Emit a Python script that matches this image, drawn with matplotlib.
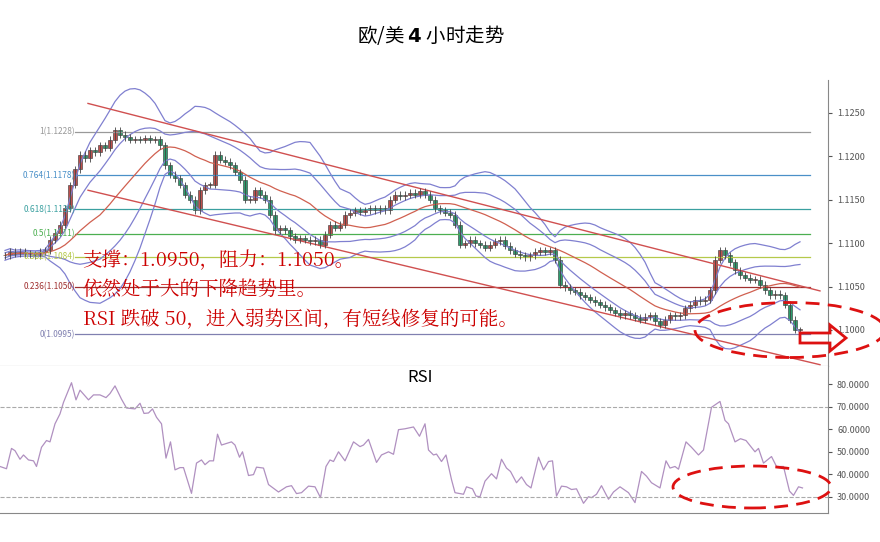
import numpy as np
import pandas as pd
import matplotlib
matplotlib.use('Agg')
import matplotlib.pyplot as plt
from matplotlib.patches import Ellipse, FancyArrow

plt.rcParams['font.family'] = ['Noto Sans CJK SC', 'DejaVu Sans']

# closes, one candle every 4 hours
closes = [1.1086, 1.1090, 1.1088, 1.1090, 1.1088, 1.1087, 1.1086, 1.1090, 1.1092, 1.1104,
          1.1112, 1.1121, 1.1140, 1.1167, 1.1185, 1.1202, 1.1198, 1.1207, 1.1205, 1.1213,
          1.1210, 1.1219, 1.1230, 1.1225, 1.1222, 1.1219, 1.1220, 1.1219, 1.1221, 1.1219,
          1.1220, 1.1213, 1.1190, 1.1179, 1.1175, 1.1167, 1.1156, 1.1150, 1.1138, 1.1161,
          1.1167, 1.1167, 1.1202, 1.1196, 1.1194, 1.1190, 1.1182, 1.1173, 1.1150, 1.1150,
          1.1161, 1.1156, 1.1150, 1.1133, 1.1115, 1.1117, 1.1115, 1.1108, 1.1104, 1.1106,
          1.1104, 1.1102, 1.1104, 1.1098, 1.1110, 1.1121, 1.1118, 1.1121, 1.1133, 1.1135,
          1.1138, 1.1136, 1.1138, 1.1140, 1.1138, 1.1140, 1.1138, 1.1150, 1.1156, 1.1154,
          1.1156, 1.1158, 1.1156, 1.1160, 1.1156, 1.1150, 1.1140, 1.1138, 1.1135, 1.1133,
          1.1121, 1.1098, 1.1100, 1.1104, 1.1100, 1.1098, 1.1095, 1.1098, 1.1102, 1.1104,
          1.1097, 1.1092, 1.1088, 1.1086, 1.1084, 1.1086, 1.1090, 1.1092, 1.1090, 1.1092,
          1.1081, 1.1052, 1.1049, 1.1046, 1.1044, 1.1040, 1.1038, 1.1035, 1.1032, 1.1029,
          1.1026, 1.1023, 1.1020, 1.1017, 1.1019, 1.1017, 1.1014, 1.1012, 1.1015, 1.1017,
          1.1010, 1.1006, 1.1012, 1.1017, 1.1016, 1.1017, 1.1025, 1.1029, 1.1035, 1.1033,
          1.1035, 1.1046, 1.1081, 1.1092, 1.1086, 1.1078, 1.1069, 1.1063, 1.1060, 1.1058,
          1.1058, 1.1052, 1.1046, 1.1040, 1.1042, 1.1040, 1.1029, 1.1012, 1.1000, 1.1000]
wick = 0.0004

rsi_idx = [-1, 0.3, 1.3, 2, 3, 3.7, 4.7, 5.7, 6.3, 7.3, 8.3, 9, 10, 11, 11.7, 13.3, 14.2,
           15, 16.7, 17.7, 19, 20.2, 21, 22, 23.3, 24.3, 26, 27, 27.8, 28.7, 29.5, 30.3,
           31.3, 32.2, 33.1, 34, 35, 35.7, 37.3, 38.3, 39.3, 40, 40.9, 41.7, 42.5, 43.3,
           44.3, 45.3, 46, 46.9, 47.5, 48.7, 49.7, 50.3, 51.7, 52.7, 54.7, 56.3, 57.3, 58.3,
           59.3, 60.7, 62, 63.1, 64.2, 65, 65.7, 66.7, 68, 69.7, 71, 71.7, 72.7, 74.3, 75.3,
           76.7, 77.7, 78.7, 80, 81.7, 82.9, 84, 84.7, 85.7, 86.3, 87.3, 88.2, 89.3, 90,
           91.7, 92.3, 93.5, 94.2, 95, 96, 97.3, 98.3, 99.3, 100.3, 101.1, 102.3, 103.3,
           104.3, 105.2, 106.7, 107.7, 108.7, 109.5, 110.3, 111.3, 112.3, 113.3, 114.3,
           115.7, 116.7, 117.3, 118.3, 119.3, 120.7, 121.7, 123, 124.7, 126, 127.3, 128.3,
           129.3, 131, 132.2, 133, 134, 134.7, 136.2, 137.3, 138.7, 139.7, 141.3, 143, 144,
           144.7, 146, 147.1, 148.2, 150, 150.7, 151.7, 153.3, 154.3, 155.7, 156.9, 157.7,
           158.7, 159.5]
rsi_val = [43.5, 42.5, 51.5, 50.5, 46.7, 48.6, 46.4, 46, 43.5, 52, 55, 54.4, 62.4, 66.8,
           71.9, 80.6, 73, 77.3, 73, 75.2, 75.2, 74, 75.8, 79.2, 73.3, 69.4, 69, 71.5, 67,
           67.2, 69, 65.3, 62.4, 47.2, 54.4, 42, 43, 43, 31.6, 45, 46.4, 44.3, 46, 46, 57.8,
           53, 53.7, 54.4, 53, 47.6, 50, 39.5, 39.9, 43.2, 42.8, 35.5, 32.2, 34.5, 35, 31.5,
           31.9, 34.8, 34.5, 29.7, 43.5, 46.4, 45.7, 50, 46, 54.4, 52.3, 53, 55.5, 45.3,
           48.6, 50, 48.9, 59.8, 60.2, 61, 56.9, 62.4, 50.8, 48.6, 49, 45.7, 48.6, 37.7,
           31.9, 31.2, 34.5, 33.6, 30.4, 30.1, 37, 40.3, 38, 46.7, 42.8, 41.3, 36.3, 38.9,
           35.5, 34, 47.6, 42, 45.7, 46, 30.4, 34.8, 34.5, 33.3, 33.6, 27.2, 30.1, 29.7,
           31.2, 35, 29, 32.2, 34.5, 31.9, 27.5, 41.3, 39.2, 36.3, 34, 46, 42.8, 43.5, 42.3,
           54.4, 52, 48.6, 50.8, 69.7, 72.3, 63.9, 62.4, 54.4, 55.8, 55, 50, 51.5, 45, 47.9,
           43.5, 43.5, 32.6, 30.7, 34.5, 34]

fib_levels = [1.1228, 1.1178, 1.1139, 1.1111, 1.1084, 1.1050, 1.0995]
fib_labels = ['1(1.1228)', '0.764(1.1178)', '0.618(1.1139)', '0.5(1.1111)',
              '0.382(1.1084)', '0.236(1.1050)', '0(1.0995)']
fib_colors = ['#999999', '#4a90c8', '#3aa0a0', '#4caf50', '#b5c94a', '#a03030', '#8080b0']

chan_x = [16.6, 163]
chan_upper = [1.1261, 1.1045]
chan_lower = [1.1161, 1.0960]

notes = ['支撑：1.0950，阻力：1.1050。', '依然处于大的下降趋势里。',
         'RSI 跌破 50，进入弱势区间，有短线修复的可能。']

c = pd.Series(closes)
mid = c.rolling(20, min_periods=1).mean()
sd = c.rolling(20, min_periods=2).std().bfill()
x = np.arange(len(closes))

fig = plt.figure(figsize=(8.8, 5.42), dpi=100)
fig.text(0.49, 0.922, '欧/美 $\\mathbf{4}$ 小时走势', ha='center', fontsize=14)
ax = fig.add_axes([0, 176/542, 828/880, 286/542])
ax2 = fig.add_axes([0, 29/542, 828/880, 147/542])

# fib lines
for lv, lb, col in zip(fib_levels, fib_labels, fib_colors):
    ax.plot([14, 161], [lv, lv], color=col, lw=0.9)
    ax.text(14, lv, lb, color=col, fontsize=6, ha='right', va='center')

# bands
ax.plot(x, mid + 2 * sd, color='#8080d0', lw=0.9)
ax.plot(x, mid - 2 * sd, color='#8080d0', lw=0.9)
ax.plot(x, mid + sd, color='#8080d0', lw=0.9)
ax.plot(x, mid - sd, color='#8080d0', lw=0.9)
ax.plot(x, mid, color='#d06050', lw=0.9)
ax.plot(chan_x, chan_upper, color='#d05050', lw=1)
ax.plot(chan_x, chan_lower, color='#d05050', lw=1)

# candles
opens = [closes[0]] + closes[:-1]
for i, (o, cl) in enumerate(zip(opens, closes)):
    col = '#2e9e6e' if cl < o else '#c0504d'
    ax.vlines(i, min(o, cl) - wick, max(o, cl) + wick, color='#444444', lw=0.6)
    ax.bar(i, max(abs(cl - o), 0.00008), bottom=min(o, cl), width=0.75,
           color=col, edgecolor='#333333', lw=0.4)

for k, t in enumerate(notes):
    ax.text(15.5, 1.1079 - k * 0.00335, t, color='#cc0000', fontsize=14,
            va='center', family=['Noto Serif CJK SC', 'Noto Sans CJK SC', 'DejaVu Sans'])

ax.set_xlim(-1, 164.6)
ax.set_ylim(1.09585, 1.1288)
ax.set_yticks([1.1000, 1.1050, 1.1100, 1.1150, 1.1200, 1.1250])
ax.set_yticklabels(['1.1000', '1.1050', '1.1100', '1.1150', '1.1200', '1.1250'])

ax2.plot(rsi_idx, rsi_val, color='#b090c0', lw=0.9)
ax2.axhline(70, color='#aaaaaa', ls='--', lw=0.8)
ax2.axhline(30, color='#aaaaaa', ls='--', lw=0.8)
ax2.text(83, 83, 'RSI', ha='center', va='center', fontsize=12)
ax2.set_xlim(-1, 164.6)
ax2.set_ylim(22.9, 88)
ax2.set_yticks([30, 40, 50, 60, 70, 80])
ax2.set_yticklabels(['30.0000', '40.0000', '50.0000', '60.0000', '70.0000', '80.0000'])

for a in (ax, ax2):
    a.yaxis.tick_right()
    a.set_xticks([])
    a.tick_params(axis='y', labelsize=6.5, colors='#555555', length=3)
    for s in ('top', 'left'):
        a.spines[s].set_visible(False)
    for s in ('right', 'bottom'):
        a.spines[s].set_color('#888888')

# highlight ellipses and arrow (figure pixels)
W, H = 880, 542
for cx, cy, ew, eh in [(790, 330, 190, 55), (752, 487, 158, 42)]:
    fig.patches.append(Ellipse((cx / W, 1 - cy / H), ew / W, eh / H, fill=False,
                               ec='#dd1111', lw=2, ls=(0, (5, 3)),
                               transform=fig.transFigure))
fig.patches.append(FancyArrow(800 / W, 1 - 338 / H, 30 / W, 0, width=10 / H,
                              head_width=26 / H, head_length=16 / W, fill=False,
                              ec='#dd1111', lw=2, transform=fig.transFigure))

fig.savefig('out.png', dpi=100)
